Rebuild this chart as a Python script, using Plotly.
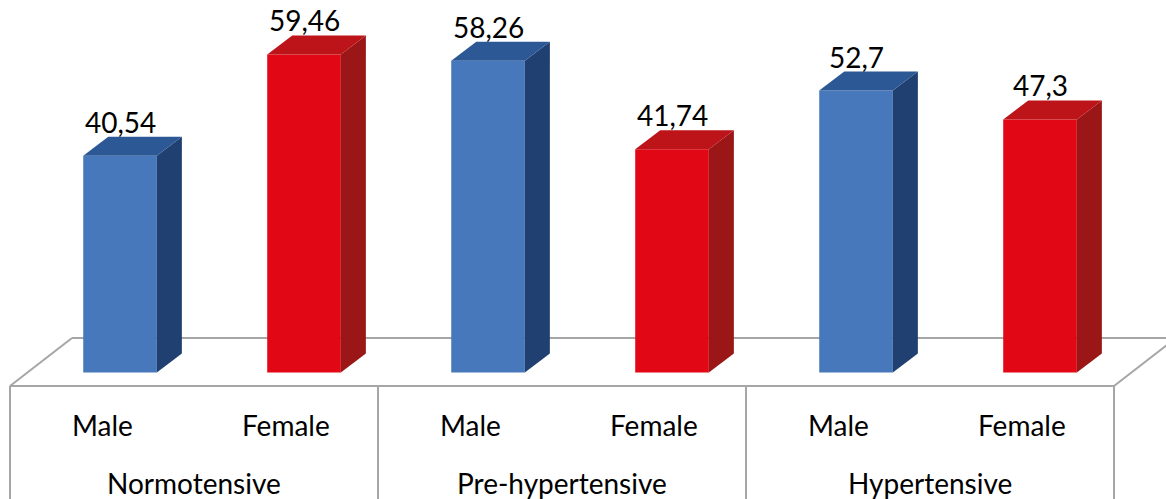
import plotly.graph_objects as go

# Data
groups = ["Normotensive", "Pre-hypertensive", "Hypertensive"]
genders = ["Male", "Female"]
values = [40.54, 59.46, 58.26, 41.74, 52.7, 47.3]  # Male/Female per group

# Colours (front, side, top) per gender
colors = {
    "Male": ("#4678BB", "#1F4070", "#2C5896"),
    "Female": ("#E20714", "#9B1616", "#BD141A"),
}

FONT = "Lato"
FSIZE = 28
n = len(values)
cats = [(g, s) for g in groups for s in genders]

# Pseudo-3D geometry (data units)
BAR_W = 0.40          # bar width in category units
SHIFT = 0.098         # bars sit a little into the floor depth
DX, DV = 0.136, 3.55  # bar depth vector
FRONT_V = -2.52       # floor front edge
FDX, FDV = 0.337, 8.97  # floor depth vector
BOTTOM = -23.64
TOP = 69.63

fig = go.Figure()

# Front faces
xc = [i + SHIFT for i in range(n)]
fig.add_trace(go.Bar(
    x=xc, y=values, width=BAR_W,
    marker=dict(color=[colors[s][0] for _, s in cats], line=dict(width=0)),
    hoverinfo="skip",
))

# Side and top faces
for i, ((g, s), v) in enumerate(zip(cats, values)):
    xl = xc[i] - BAR_W / 2
    xr = xc[i] + BAR_W / 2
    fig.add_trace(go.Scatter(
        x=[xr, xr + DX, xr + DX, xr, xr],
        y=[0, DV, v + DV, v, 0],
        fill="toself", fillcolor=colors[s][1], mode="lines",
        line=dict(width=0, color=colors[s][1]), hoverinfo="skip",
    ))
    fig.add_trace(go.Scatter(
        x=[xl, xr, xr + DX, xl + DX, xl],
        y=[v, v, v + DV, v + DV, v],
        fill="toself", fillcolor=colors[s][2], mode="lines",
        line=dict(width=0, color=colors[s][2]), hoverinfo="skip",
    ))
    fig.add_annotation(
        x=xc[i], y=v + DV, text=f"{v:g}".replace(".", ","),
        showarrow=False, yanchor="bottom", yshift=-4,
        font=dict(family=FONT, size=FSIZE, color="black"),
    )

# Floor and category table lines
GRAY = "#A6A6A6"
left, right = -0.5, n - 0.5
lines = [
    (left, FRONT_V, right, FRONT_V),
    (left, FRONT_V, left + FDX, FRONT_V + FDV),
    (left + FDX, FRONT_V + FDV, right + FDX + 1, FRONT_V + FDV),
    (right, FRONT_V, right + FDX, FRONT_V + FDV),
]
for k in range(len(groups) + 1):
    xv = left + 2 * k
    lines.append((xv, FRONT_V, xv, BOTTOM - 1))
for x0, y0, x1, y1 in lines:
    fig.add_shape(type="line", x0=x0, y0=y0, x1=x1, y1=y1, layer="below",
                  line=dict(color=GRAY, width=2))

# Category labels
for i, (g, s) in enumerate(cats):
    fig.add_annotation(x=i, y=-9.81, text=s, showarrow=False,
                       font=dict(family=FONT, size=FSIZE, color="black"))
for k, g in enumerate(groups):
    fig.add_annotation(x=2 * k + 0.5, y=-20.65, text=g, showarrow=False,
                       font=dict(family=FONT, size=FSIZE, color="black"))

fig.update_layout(
    width=1166, height=499,
    margin=dict(l=0, r=0, t=0, b=0),
    paper_bgcolor="white", plot_bgcolor="white",
    showlegend=False,
    xaxis=dict(range=[-102 / 184, (1166 - 102) / 184], visible=False),
    yaxis=dict(range=[BOTTOM, TOP], visible=False),
)

fig.write_html("out.html")
